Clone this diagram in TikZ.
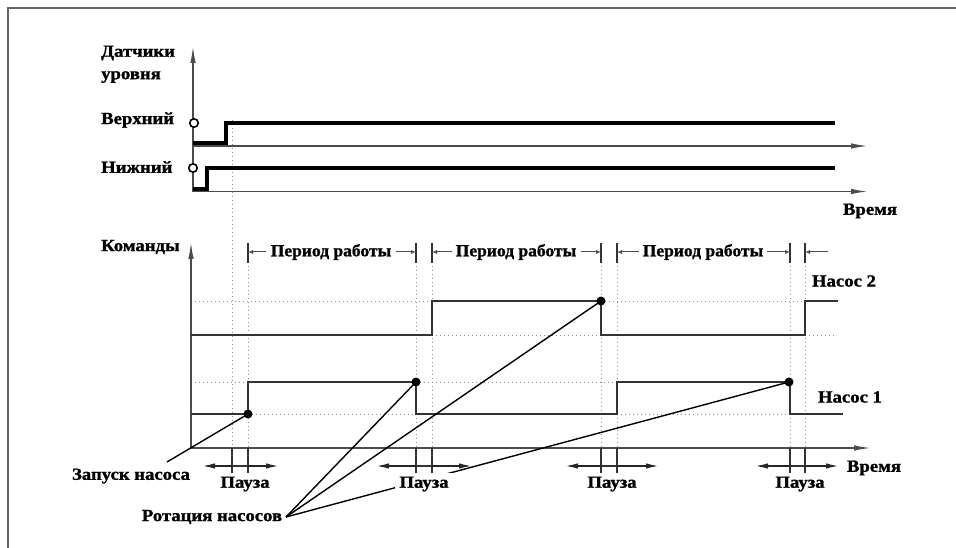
\documentclass[tikz,border=0pt]{standalone}
\usepackage{fontspec}
\setmainfont{Liberation Serif}[BoldFeatures={FakeBold=1.2}]
\usepackage{graphicx}
\usetikzlibrary{arrows.meta}
\newcommand\tx[1]{\scalebox{1.1}[1]{\bfseries #1}}
\newcommand\txn[1]{\scalebox{1.03}[1]{\bfseries #1}}
\begin{document}
\begin{tikzpicture}[x=1pt,y=-1pt,
  lbl/.style={font=\fontsize{17}{19}\selectfont, inner sep=0pt},
  axisl/.style={draw=black!70, line width=1.5pt},
  axarr/.style={-{Latex[length=17pt,width=5.5pt]}},
  sig/.style={draw=black!80, line width=1.6pt, line join=miter},
  sens/.style={draw=black, line width=4pt},
  gridl/.style={draw=black!45, line width=1pt, dash pattern=on 1pt off 3pt},
  dotn/.style={circle, fill=black, inner sep=0pt, minimum size=9pt},
  tickl/.style={draw=black!80, line width=1.3pt},
  dimarr/.style={draw=black!70, line width=1pt, -{Latex[length=5pt,width=4pt]}},
  parr/.style={draw=black!85, line width=1.6pt, -{Latex[length=13pt,width=5.5pt]}},
  lead/.style={draw=black, line width=1.4pt},
  sensc/.style={circle, draw=black, line width=1.6pt, inner sep=0pt, minimum size=8.5pt, fill=white},
]
\useasboundingbox (0,0) rectangle (956,548);
% frame
\draw[draw=black!60, line width=1.5pt] (8,548) -- (8,8) -- (956,8);

% ---------- sensor section ----------
\draw[gridl] (232,120) -- (232,448);
\draw[axisl, axarr] (193,192) -- (193,46);
\draw[axisl, axarr] (193,146) -- (868,146);
\draw[axisl, axarr] (193,191.5) -- (868,191.5);
\draw[sens] (193,143) -- (226,143) -- (226,123) -- (835,123);
\draw[sens] (193,189) -- (207,189) -- (207,168) -- (835,168);
\node[sensc] (cup) at (194,123) {};
\node[sensc] (clo) at (193,168) {};

\node[lbl, anchor=west] (dat) at (101,53) {\tx{Датчики}};
\node[lbl, anchor=west] (urv) at (101,77) {\tx{уровня}};
\node[lbl, anchor=west] (verh) at (101,120) {\tx{Верхний}};
\node[lbl, anchor=west] (nizh) at (101,167) {\tx{Нижний}};
\node[lbl] (vr1) at (870,211) {\tx{Время}};

% ---------- command section ----------
\node[lbl, anchor=west] (kom) at (101,247) {\tx{Команды}};
% dotted grid
\foreach \x in {248,416,432,601,617,790,805}
  \draw[gridl] (\x,262) -- (\x,448);
\draw[gridl] (195,301) -- (432,301);
\draw[gridl] (601,301) -- (805,301);
\draw[gridl] (432,335) -- (601,335);
\draw[gridl] (805,335) -- (834,335);
\draw[gridl] (195,382) -- (248,382);
\draw[gridl] (416,382) -- (617,382);
\draw[gridl] (248,414) -- (416,414);
\draw[gridl] (617,414) -- (790,414);

\draw[axisl, axarr] (191,448) -- (191,242);
\draw[axisl, axarr] (191,448) -- (871,448);

% pump signals
\draw[sig] (191,335) -- (432,335) -- (432,301) -- (601,301) -- (601,335) -- (805,335) -- (805,301) -- (838,301);
\draw[sig] (191,414) -- (248,414) -- (248,382) -- (416,382) -- (416,414) -- (617,414) -- (617,382) -- (790,382) -- (790,414) -- (843,414);

% period markers
\foreach \x in {248,416,432,601,617,790,805}
  \draw[tickl] (\x,243) -- (\x,263);
\node[lbl] (per1) at (331,252) {\txn{Период работы}};
\node[lbl] (per2) at (516,252) {\txn{Период работы}};
\node[lbl] (per3) at (703,252) {\txn{Период работы}};
\draw[dimarr] (266,252) -- (248,252);
\draw[dimarr] (396,252) -- (416,252);
\draw[dimarr] (452,252) -- (432,252);
\draw[dimarr] (581,252) -- (601,252);
\draw[dimarr] (639,252) -- (617,252);
\draw[dimarr] (767,252) -- (790,252);
\draw[dimarr] (828,252) -- (805,252);

\node[lbl] (n2) at (844,281) {\tx{Насос 2}};
\node[lbl] (n1) at (850,397) {\tx{Насос 1}};
\node[lbl] (vr2) at (874,468) {\tx{Время}};

% pause markers
\foreach \a/\b/\l/\r in {232/248/202/279, 416/432/376/472, 601/617/565/659, 790/805/755/839}{
  \draw[tickl] (\a,448) -- (\a,473);
  \draw[tickl] (\b,448) -- (\b,473);
  \draw[tickl] (\a,466) -- (\b,466);
  \draw[parr] (\a,466) -- (\l,466);
  \draw[parr] (\b,466) -- (\r,466);
}

% dots
\node[dotn] (d1) at (248,414) {};
\node[dotn] (d2) at (416,382) {};
\node[dotn] (d3) at (601,301) {};
\node[dotn] (d4) at (789,382) {};

% leaders
\coordinate (zs) at (167,462);
\coordinate (rs) at (286,517);
\draw[lead] (zs) -- (d1.center);
\draw[lead] (rs) -- (d2.center);
\draw[lead] (rs) -- (d3.center);
\draw[lead] (rs) -- (d4.center);

\node[lbl] (p1) at (245,484) {\tx{Пауза}};
\node[lbl, fill=white, inner sep=4pt] (p2) at (424,484) {\tx{Пауза}};
\node[lbl] (p3) at (612,484) {\tx{Пауза}};
\node[lbl] (p4) at (800,484) {\tx{Пауза}};

\node[lbl] (zap) at (131,476) {\tx{Запуск насоса}};
\node[lbl] (rot) at (212,517) {\tx{Ротация насосов}};
\end{tikzpicture}
\end{document}
